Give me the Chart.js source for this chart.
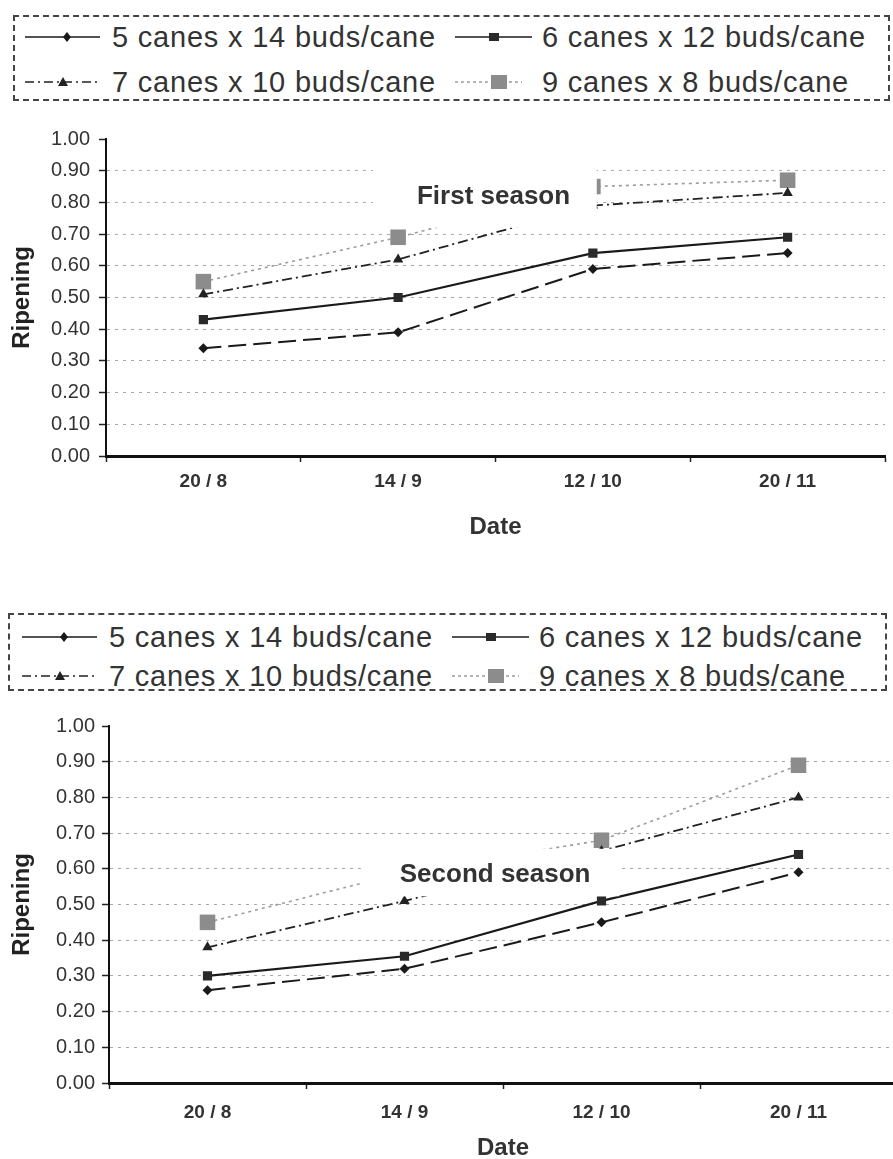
<!DOCTYPE html>
<html>
<head>
<meta charset="utf-8">
<script src="https://cdn.jsdelivr.net/npm/chart.js@4.4.1/dist/chart.umd.min.js"></script>
<style>
  html, body { margin: 0; padding: 0; background: #fff; }
  body { width: 893px; height: 1159px; overflow: hidden; position: relative;
         font-family: "Liberation Sans", Arial, sans-serif; color: #333; }
  .legend { position: absolute; border: 2px dashed #444; box-sizing: border-box; }
  .sample { position: absolute; }
  .ltext { position: absolute; font-size: 29px; letter-spacing: 0.8px; white-space: nowrap;
           line-height: 34px; color: #333; }
  canvas { position: absolute; left: 0; }
</style>
</head>
<body>
<canvas id="season1" width="896" height="440" style="top:110px"></canvas>
<canvas id="season2" width="908" height="463" style="top:700px"></canvas>
<script>
// data
const categories = ['20 / 8', '14 / 9', '12 / 10', '20 / 11'];
const seriesNames = ['5 canes x 14 buds/cane', '6 canes x 12 buds/cane',
                     '7 canes x 10 buds/cane', '9 canes x 8 buds/cane'];
const yTickLabels = ['0.00', '0.10', '0.20', '0.30', '0.40', '0.50',
                     '0.60', '0.70', '0.80', '0.90', '1.00'];

const first5x14 = [0.34, 0.39, 0.59, 0.64];
const first6x12 = [0.43, 0.50, 0.64, 0.69];
const first7x10 = [0.51, 0.62, 0.79, 0.83];
const first9x8  = [0.55, 0.69, 0.85, 0.87];

const second5x14 = [0.26, 0.32, 0.45, 0.59];
const second6x12 = [0.30, 0.355, 0.51, 0.64];
const second7x10 = [0.38, 0.51, 0.65, 0.80];
const second9x8  = [0.45, 0.59, 0.68, 0.89];

// line / marker looks per series
const looks = [
  { color: '#1a1a1a', fill: '#1a1a1a', dash: [18, 7], width: 2, point: 'rectRot', r: 5 },
  { color: '#1a1a1a', fill: '#2a2a2a', dash: [], width: 2.2, point: 'rect', r: 6.5 },
  { color: '#222', fill: '#222', dash: [10, 4, 2, 4], width: 1.8, point: 'triangle', r: 6 },
  { color: '#9c9c9c', fill: '#8c8c8c', dash: [3, 4], width: 1.6, point: 'rect', r: 11 }
];

const FONT = '"Liberation Sans", Arial, sans-serif';

// white text box with the season name
const seasonLabel = {
  id: 'seasonLabel',
  afterDatasetsDraw(chart, args, opts) {
    const ctx = chart.ctx, x = chart.scales.x, y = chart.scales.y;
    const x0 = x.getPixelForValue(opts.box[0]), x1 = x.getPixelForValue(opts.box[1]);
    const y0 = y.getPixelForValue(opts.box[2]), y1 = y.getPixelForValue(opts.box[3]);
    ctx.save();
    ctx.fillStyle = '#fff';
    ctx.fillRect(x0, y0, x1 - x0, y1 - y0);
    ctx.font = 'bold 26px ' + FONT;
    ctx.fillStyle = '#333';
    ctx.textAlign = 'center';
    ctx.textBaseline = 'middle';
    ctx.fillText(opts.text, x.getPixelForValue(opts.at[0]), y.getPixelForValue(opts.at[1]));
    ctx.restore();
  }
};

function makeChart(id, series, cfg) {
  return new Chart(document.getElementById(id), {
    type: 'line',
    data: {
      labels: categories,
      datasets: series.map((vals, i) => ({
        label: seriesNames[i],
        data: vals,
        fill: false,
        tension: 0,
        borderColor: looks[i].color,
        borderWidth: looks[i].width,
        borderDash: looks[i].dash,
        pointStyle: looks[i].point,
        pointRadius: looks[i].r,
        pointBackgroundColor: looks[i].fill,
        pointBorderColor: looks[i].fill,
        pointBorderWidth: 0
      }))
    },
    options: {
      responsive: false,
      animation: false,
      devicePixelRatio: 1,
      layout: { padding: { top: cfg.top, left: 0, right: 0, bottom: 0 } },
      plugins: {
        legend: { display: false },
        tooltip: { enabled: false },
        seasonLabel: { text: cfg.text, box: cfg.box, at: cfg.at }
      },
      scales: {
        x: {
          offset: true,
          afterFit: s => { s.height = cfg.xHeight; },
          grid: { display: true, drawOnChartArea: false, offset: true,
                  tickLength: 6, tickColor: '#222', tickWidth: 1.5 },
          border: { color: '#111', width: 3 },
          ticks: { color: '#333', padding: cfg.xPad,
                   font: { family: FONT, size: 19, weight: 'bold' } },
          title: { display: true, text: 'Date', color: '#333',
                   font: { family: FONT, size: 24, weight: 'bold' },
                   padding: { top: 0, bottom: cfg.datePad } }
        },
        y: {
          min: 0, max: 1,
          afterFit: s => { s.width = cfg.yWidth; },
          grid: {
            color: c => (c.tick && c.tick.value > 0.001 && c.tick.value < 0.999) ? '#a8a8a8' : 'rgba(0,0,0,0)',
            lineWidth: 1,
            tickLength: 7, tickColor: '#222', tickWidth: 1.5, tickBorderDash: []
          },
          border: { color: '#111', width: 2, dash: [3, 5] },
          ticks: { stepSize: 0.1, color: '#333', padding: cfg.yPad,
                   font: { family: FONT, size: 20 },
                   callback: (v, i) => yTickLabels[i] },
          title: { display: true, text: 'Ripening', color: '#222',
                   font: { family: FONT, size: 24, weight: 'bold' },
                   padding: { top: 8, bottom: 0 } }
        }
      }
    },
    plugins: [seasonLabel]
  });
}

makeChart('season1', [first5x14, first6x12, first7x10, first9x8], {
  top: 29, xHeight: 94, yWidth: 106, xPad: 8, yPad: 9, datePad: 8,
  text: 'First season', box: [0.87, 2.02, 0.965, 0.72], at: [1.49, 0.817]
});
makeChart('season2', [second5x14, second6x12, second7x10, second9x8], {
  top: 26, xHeight: 80, yWidth: 109, xPad: 12, yPad: 7, datePad: 0,
  text: 'Second season', box: [0.78, 2.09, 0.656, 0.523], at: [1.46, 0.584]
});

// html legends
const svgNS = 'http://www.w3.org/2000/svg';
function marker(svg, i, cx, cy) {
  let el;
  if (i === 0) {
    el = document.createElementNS(svgNS, 'polygon');
    el.setAttribute('points', `${cx},${cy-5} ${cx+4},${cy} ${cx},${cy+5} ${cx-4},${cy}`);
  } else if (i === 1) {
    el = document.createElementNS(svgNS, 'rect');
    el.setAttribute('x', cx - 5); el.setAttribute('y', cy - 4);
    el.setAttribute('width', 10); el.setAttribute('height', 8);
  } else if (i === 2) {
    el = document.createElementNS(svgNS, 'polygon');
    el.setAttribute('points', `${cx},${cy-5} ${cx+5},${cy+4} ${cx-5},${cy+4}`);
  } else {
    el = document.createElementNS(svgNS, 'rect');
    el.setAttribute('x', cx - 8); el.setAttribute('y', cy - 7);
    el.setAttribute('width', 16); el.setAttribute('height', 14);
  }
  el.setAttribute('fill', looks[i].fill);
  svg.appendChild(el);
}
const legendDash = [[], [], [9, 4, 2, 4], [3, 3]];
const legendLineEnd = [75, 77, 75, 67];
const legendMark = [42, 39, 38, 44];

function buildLegend(box, rows, cols) {
  const d = document.createElement('div');
  d.className = 'legend';
  d.style.left = box[0] + 'px'; d.style.top = box[1] + 'px';
  d.style.width = (box[2] - box[0]) + 'px'; d.style.height = (box[3] - box[1]) + 'px';
  document.body.appendChild(d);
  seriesNames.forEach((name, i) => {
    const cx = cols[i % 2], cy = rows[Math.floor(i / 2)];
    const svg = document.createElementNS(svgNS, 'svg');
    svg.setAttribute('width', 80); svg.setAttribute('height', 20);
    svg.setAttribute('class', 'sample');
    svg.style.left = cx + 'px'; svg.style.top = (cy - 10) + 'px';
    const ln = document.createElementNS(svgNS, 'line');
    ln.setAttribute('x1', 0); ln.setAttribute('x2', legendLineEnd[i]);
    ln.setAttribute('y1', 10); ln.setAttribute('y2', 10);
    ln.setAttribute('stroke', looks[i].color);
    ln.setAttribute('stroke-width', 1.6);
    if (legendDash[i].length) ln.setAttribute('stroke-dasharray', legendDash[i].join(' '));
    svg.appendChild(ln);
    marker(svg, i, legendMark[i], 10);
    document.body.appendChild(svg);
    const t = document.createElement('div');
    t.className = 'ltext';
    t.textContent = name;
    t.style.left = (cx + 87) + 'px';
    t.style.top = (cy - 17) + 'px';
    document.body.appendChild(t);
  });
}
buildLegend([13, 15, 890, 101], [37, 82], [25, 455]);
buildLegend([8, 613, 887, 691], [637, 676], [22, 452]);
</script>
</body>
</html>
